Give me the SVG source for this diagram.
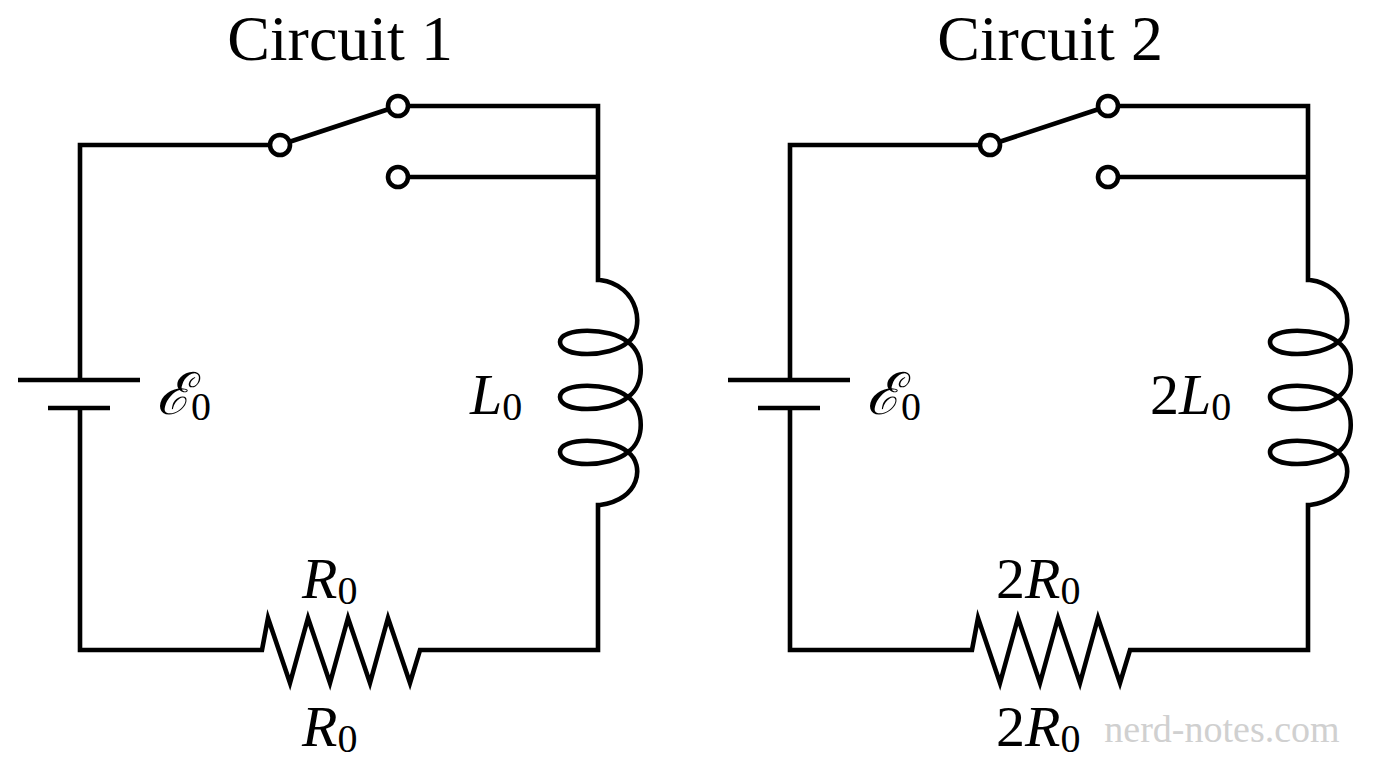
<svg xmlns="http://www.w3.org/2000/svg" width="1376" height="768" viewBox="0 0 1376 768">
<style>
.w{fill:none;stroke:#000;stroke-width:4.6;stroke-linejoin:miter}
.c{fill:#fff;stroke:#000;stroke-width:4.6}
.t{font-family:"Liberation Serif",serif;font-size:64px;fill:#000}
.m{font-family:"Liberation Serif",serif;font-size:58px;font-style:italic;fill:#000}
.s{font-style:normal;font-size:40px}
</style>
<defs>
<g id="circ">
<path class="w" d="M270,145 H80 V380 M80,408 V650 H262 L268,618 L290,683 L308,618 L330,683 L348,618 L370,683 L388,618 L410,683 L420,650 H598 V505 L600,505 C640,500 645,465 628,452 C610,468 560,468 560,452 C560,437 610,437 628,452 C645,440 645,410 628,397 C610,413 560,413 560,397 C560,382 610,382 628,397 C645,385 645,355 628,342 C610,358 560,358 560,342 C560,327 610,327 628,342 C645,330 640,285 600,280 L598,280 V106 H408 M598,177 H408"/>
<path class="w" d="M18,380 H140 M48,408 H110 M289,142 L389,109"/>
<circle class="c" cx="280" cy="145" r="10"/>
<circle class="c" cx="398" cy="106" r="10"/>
<circle class="c" cx="398" cy="177" r="10"/>
</g>
</defs>
<rect width="1376" height="768" fill="#fff"/>
<g id="connectors">
<use id="circuit1" href="#circ"/>
<use id="circuit2" href="#circ" transform="translate(710,0)"/>
</g>
<g id="labels">
<text class="t" x="340" y="60" text-anchor="middle">Circuit 1</text>
<text class="t" x="1050" y="60" text-anchor="middle">Circuit 2</text>
<text class="m" x="156" y="414">ℰ<tspan class="s" dy="6">0</tspan></text>
<text class="m" x="866" y="414">ℰ<tspan class="s" dy="6">0</tspan></text>
<text class="m" x="470" y="414">L<tspan class="s" dy="6">0</tspan></text>
<text class="m" x="1150" y="414"><tspan font-style="normal">2</tspan>L<tspan class="s" dy="6">0</tspan></text>
<text class="m" x="302" y="598">R<tspan class="s" dy="6">0</tspan></text>
<text class="m" x="302" y="746">R<tspan class="s" dy="6">0</tspan></text>
<text class="m" x="996" y="598"><tspan font-style="normal">2</tspan>R<tspan class="s" dy="6">0</tspan></text>
<text class="m" x="996" y="746"><tspan font-style="normal">2</tspan>R<tspan class="s" dy="6">0</tspan></text>
<text x="1222" y="742" text-anchor="middle" font-family="Liberation Serif,serif" font-size="38" fill="#c8c8c8" opacity="0.85">nerd-notes.com</text>
</g>
</svg>
